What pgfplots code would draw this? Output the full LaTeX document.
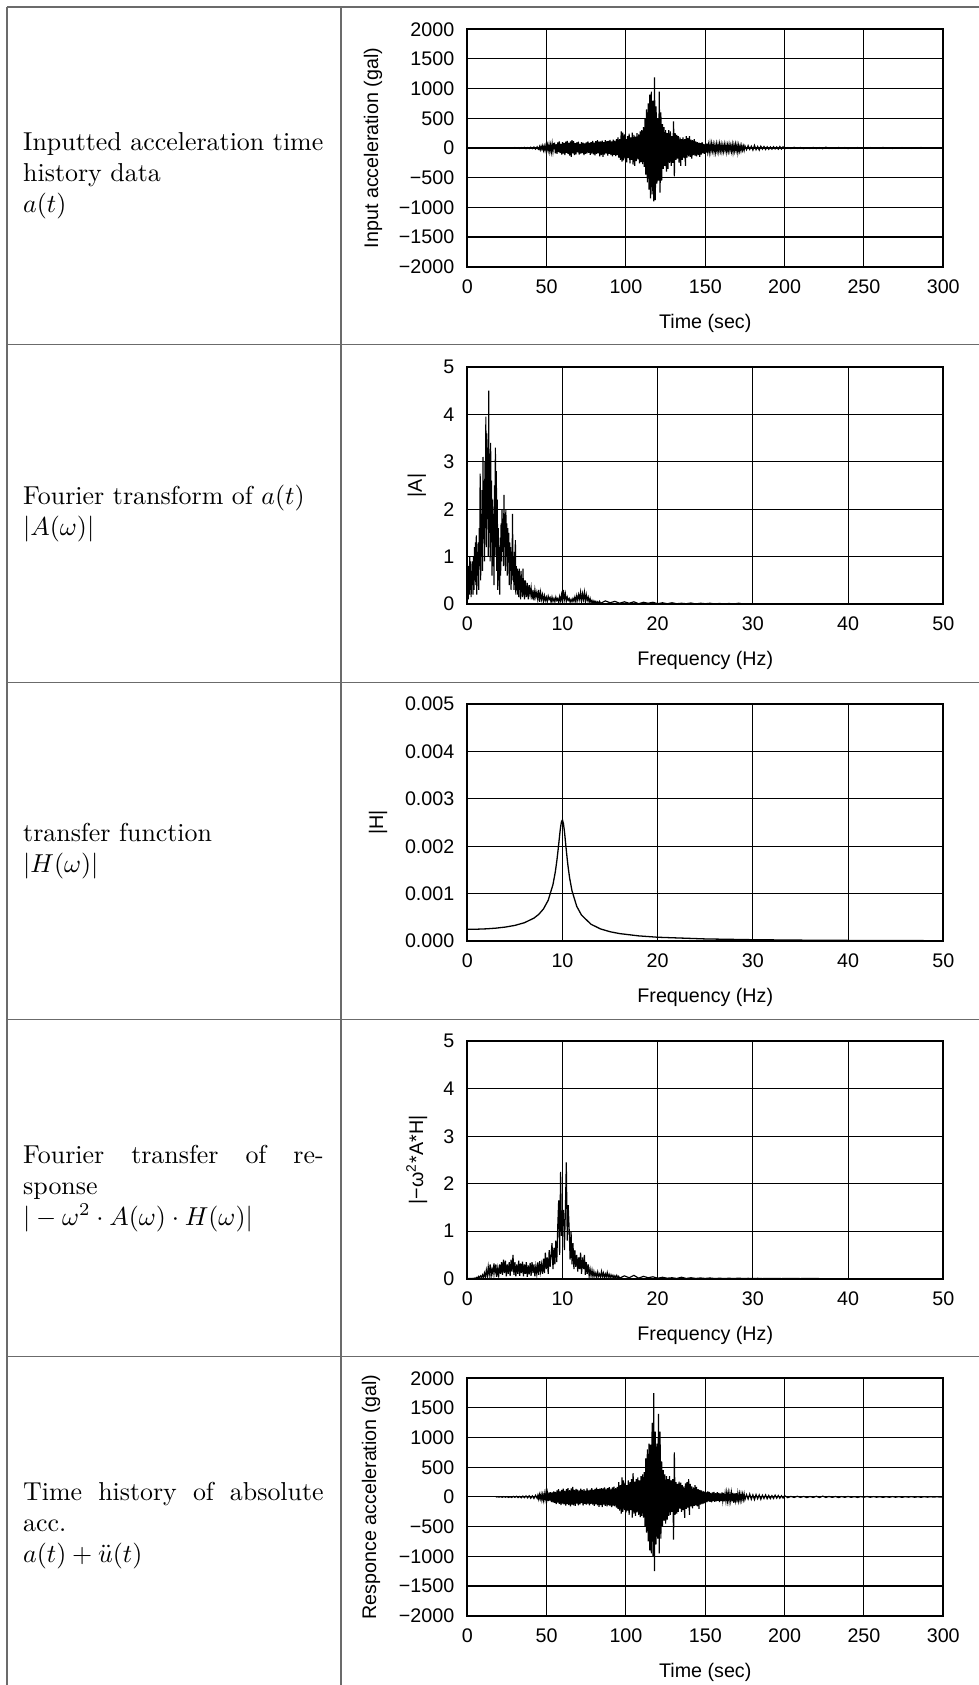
\documentclass[border=0pt]{standalone}
\usepackage{fontspec}
\usepackage{pgfplots}
\usepackage{pgfplotstable}
\pgfplotsset{compat=1.18}
\newfontfamily\plotfont{Liberation Sans}
\newcommand\plotfnt{\plotfont\fontsize{7.6}{9}\selectfont}
\definecolor{rulegray}{HTML}{6B6B6B}

% ---- input acceleration a(t) ----
\pgfplotstableread[row sep=\\]{t a\\
22 0\\23 -3\\24 4\\25 -2\\26 5\\27 -6\\28 3\\29 -5\\30 8\\31 -4\\32 6\\33 -9\\34 7\\35 -5\\36 10\\37 -12\\38 8\\39 -10\\40 14\\41 -11\\42 16\\43 -18\\44 20\\44.5 -15\\
45 -25\\45.5 22\\46 -30\\46.5 28\\47 -20\\47.5 35\\48 -38\\48.5 30\\49 -42\\49.5 36\\50 -45\\50.5 50\\51 -40\\51.5 55\\52 -58\\52.5 48\\53 -62\\53.5 70\\54 -55\\54.5 75\\
55 80\\55.5 -90\\56 65\\56.5 -100\\57 95\\57.5 -70\\58 110\\58.5 -85\\59 70\\59.5 -110\\
60 100\\60.5 -95\\61 85\\61.5 -120\\62 105\\62.5 -80\\63 120\\63.5 -100\\64 90\\64.5 -130\\
65 110\\65.5 -150\\66 130\\66.5 -90\\67 115\\67.5 -120\\68 80\\68.5 -105\\69 95\\69.5 -75\\
70 105\\70.5 -110\\71 70\\71.5 -95\\72 100\\72.5 -85\\73 90\\73.5 -120\\74 75\\74.5 -100\\
75 95\\75.5 -90\\76 110\\76.5 -80\\77 85\\77.5 -115\\78 100\\78.5 -95\\79 120\\79.5 -105\\
80 90\\80.5 -125\\81 115\\81.5 -100\\82 130\\82.5 -90\\83 105\\83.5 -140\\84 110\\84.5 -120\\
85 125\\85.5 -150\\86 100\\86.5 -110\\87 130\\87.5 -95\\88 115\\88.5 -130\\89 120\\89.5 -100\\
90 135\\90.5 -120\\91 110\\91.5 -140\\92 140\\92.5 -115\\93 125\\93.5 -135\\94 150\\94.5 -120\\
95 180\\95.5 -160\\96 150\\96.5 -200\\97 280\\97.5 -230\\98 260\\98.5 -210\\99 230\\99.5 -180\\
100 150\\100.5 -240\\101 200\\101.5 -170\\102 240\\102.5 -260\\103 180\\103.5 -200\\104 260\\104.5 -280\\
105 220\\105.5 -300\\106 190\\106.5 -220\\107 250\\107.5 -190\\108 230\\108.5 -260\\109 280\\109.5 -240\\
110 300\\110.5 -270\\111 350\\111.5 -320\\
112 500\\112.5 -450\\113 650\\113.5 -580\\114 750\\114.5 -700\\115 900\\115.5 -850\\116 950\\116.5 -780\\117 800\\117.5 -900\\
118 1190\\118.5 -880\\119 700\\119.5 -600\\120 500\\120.5 -550\\121 950\\121.5 -750\\122 600\\122.5 -550\\
123 400\\123.5 -350\\124 350\\124.5 -300\\125 300\\125.5 -400\\126 250\\126.5 -350\\127 300\\127.5 -250\\
128 280\\128.5 -300\\129 200\\129.5 -250\\130 450\\130.5 -480\\131 250\\131.5 -200\\132 220\\132.5 -180\\133 200\\133.5 -250\\134 180\\134.5 -300\\
135 150\\135.5 -200\\136 180\\136.5 -170\\137 150\\137.5 -300\\138 200\\138.5 -160\\139 170\\139.5 -140\\
140 200\\140.5 -150\\141 140\\141.5 -180\\142 130\\142.5 -120\\143 150\\143.5 -130\\144 110\\144.5 -140\\
145 100\\145.5 -120\\146 90\\146.5 -150\\147 80\\147.5 -110\\148 100\\148.5 -90\\149 70\\149.5 -100\\
150 60\\150.5 -80\\151 75\\151.5 -60\\152 50\\152.5 -70\\153 65\\153.5 -55\\154 70\\154.5 -45\\
155 55\\155.5 -65\\156 45\\156.5 -70\\157 60\\157.5 -50\\158 50\\158.5 -60\\159 65\\159.5 -45\\
160 55\\160.5 -60\\161 40\\161.5 -55\\162 60\\162.5 -40\\163 50\\163.5 -65\\164 45\\164.5 -50\\
165 60\\165.5 -45\\166 40\\166.5 -55\\167 55\\167.5 -70\\168 45\\168.5 -50\\169 60\\169.5 -40\\
170 50\\170.5 -75\\171 40\\171.5 -50\\172 35\\172.5 -45\\173 40\\173.5 -35\\174 30\\174.5 -40\\
175 35\\176 -30\\177 40\\178 -25\\179 30\\180 -35\\181 45\\182 -30\\183 25\\184 -35\\185 30\\186 -20\\187 25\\188 -25\\189 20\\190 -22\\191 18\\192 -20\\193 22\\194 -15\\195 18\\196 -20\\197 25\\198 -18\\199 20\\200 -15\\
202 8\\204 -10\\206 12\\208 -7\\210 9\\212 -11\\214 6\\216 -8\\218 10\\220 -9\\222 7\\224 -12\\226 14\\228 -8\\230 6\\232 -7\\234 9\\236 -6\\238 8\\240 -10\\242 5\\244 -7\\246 8\\248 -5\\250 6\\
252 -8\\254 7\\256 -6\\258 5\\260 -7\\262 9\\264 -5\\266 6\\268 -8\\270 5\\272 -6\\274 7\\276 -5\\278 6\\280 -7\\282 5\\284 -6\\286 8\\288 -5\\290 6\\292 -4\\294 5\\296 -6\\298 4\\300 -3\\
}\inacc

% ---- Fourier amplitude |A| ----
\pgfplotstableread[row sep=\\]{f a\\
0 0.05\\0.05 0.6\\0.1 0.1\\0.15 0.8\\0.2 0.2\\0.25 1.0\\0.3 0.3\\0.35 0.9\\0.4 0.15\\0.45 0.7\\0.5 0.4\\0.55 0.9\\0.6 0.2\\0.65 1.0\\0.7 0.3\\0.75 1.2\\0.8 0.5\\0.85 1.3\\0.9 0.4\\0.95 1.45\\
1 0.2\\1.05 1.1\\1.1 0.6\\1.15 1.3\\1.2 0.3\\1.25 1.6\\1.3 0.8\\1.35 2.75\\1.4 0.5\\1.45 1.9\\1.5 1.0\\1.55 2.4\\1.6 0.7\\1.65 3.1\\1.7 1.4\\1.75 2.6\\1.8 0.9\\1.85 3.0\\1.9 1.6\\1.95 3.95\\
2 1.2\\2.05 3.6\\2.1 2.0\\2.15 3.3\\2.2 1.0\\2.25 4.5\\2.3 1.5\\2.35 3.0\\2.4 0.9\\2.45 3.4\\2.5 1.3\\2.55 2.6\\2.6 0.6\\2.65 2.2\\2.7 0.8\\2.75 1.9\\2.8 0.4\\2.85 2.5\\2.9 1.0\\2.95 3.3\\
3 1.2\\3.05 2.8\\3.1 0.7\\3.15 2.2\\3.2 0.3\\3.25 1.6\\3.3 0.5\\3.35 1.2\\3.4 0.2\\3.45 1.4\\3.5 0.6\\3.55 1.7\\3.6 0.9\\3.65 2.0\\3.7 1.1\\3.75 1.8\\3.8 0.8\\3.85 2.3\\3.9 1.2\\3.95 1.9\\
4 0.7\\4.05 2.0\\4.1 1.0\\4.15 1.7\\4.2 0.6\\4.25 1.6\\4.3 0.9\\4.35 1.5\\4.4 0.4\\4.45 1.3\\4.5 0.7\\4.55 1.2\\4.6 0.3\\4.65 1.1\\4.7 0.6\\4.75 1.9\\4.8 0.5\\4.85 1.0\\4.9 0.3\\4.95 1.1\\
5 0.4\\5.05 1.35\\5.1 0.2\\5.15 0.8\\5.2 0.3\\5.25 0.75\\5.3 0.2\\5.35 0.7\\5.4 0.15\\5.45 0.75\\5.5 0.3\\5.55 0.6\\5.6 0.1\\5.65 0.7\\5.7 0.25\\5.75 0.55\\5.8 0.15\\5.85 0.75\\5.9 0.2\\5.95 0.5\\
6 0.1\\6.1 0.5\\6.2 0.15\\6.3 0.45\\6.4 0.1\\6.5 0.4\\6.6 0.2\\6.7 0.35\\6.8 0.1\\6.9 0.3\\7 0.08\\7.1 0.3\\7.2 0.15\\7.3 0.25\\7.4 0.1\\7.5 0.3\\7.6 0.05\\7.7 0.25\\7.8 0.1\\7.9 0.2\\
8 0.05\\8.1 0.18\\8.2 0.08\\8.3 0.15\\8.4 0.05\\8.5 0.17\\8.6 0.1\\8.7 0.14\\8.8 0.04\\8.9 0.15\\9 0.06\\9.1 0.12\\9.2 0.05\\9.3 0.15\\9.4 0.08\\9.5 0.12\\9.6 0.03\\9.7 0.16\\9.8 0.07\\9.9 0.2\\
10 0.05\\10.1 0.3\\10.2 0.1\\10.3 0.22\\10.4 0.06\\10.5 0.15\\10.6 0.08\\10.7 0.12\\10.8 0.04\\10.9 0.1\\11 0.05\\11.1 0.12\\11.2 0.06\\11.3 0.15\\11.4 0.05\\11.5 0.18\\11.6 0.08\\11.7 0.2\\11.8 0.1\\11.9 0.25\\
12 0.06\\12.1 0.22\\12.2 0.1\\12.3 0.25\\12.4 0.05\\12.5 0.2\\12.6 0.08\\12.7 0.15\\12.8 0.04\\12.9 0.12\\13 0.03\\13.1 0.08\\13.2 0.02\\13.3 0.07\\13.4 0.03\\13.5 0.06\\13.6 0.02\\13.7 0.05\\13.8 0.01\\13.9 0.06\\
14 0.02\\14.5 0.07\\15 0.03\\15.5 0.06\\16 0.02\\16.5 0.05\\17 0.02\\17.5 0.05\\18 0.01\\18.5 0.04\\19 0.02\\19.5 0.04\\20 0.01\\20.5 0.03\\21 0.01\\21.5 0.03\\22 0.01\\22.5 0.02\\23 0.01\\23.5 0.025\\
24 0.005\\24.5 0.02\\25 0.01\\25.5 0.02\\26 0.005\\26.5 0.015\\27 0.005\\27.5 0.015\\28 0.005\\28.5 0.02\\29 0.005\\29.5 0.01\\30 0.005\\31 0.01\\32 0.003\\33 0.01\\34 0.003\\35 0.008\\36 0.003\\37 0.006\\
38 0.002\\40 0.004\\42 0.002\\44 0.003\\46 0.002\\48 0.002\\50 0.001\\
}\fourA

% ---- transfer function |H| ----
\pgfplotstableread[row sep=\\]{f h\\
0 0.000250\\1 0.0002525\\2 0.0002604\\3 0.0002747\\4 0.0002976\\5 0.0003326\\6 0.000389\\7 0.000486\\7.5 0.000564\\8 0.000679\\8.5 0.000863\\9 0.001193\\9.25 0.001466\\9.4 0.001684\\9.5 0.001855\\9.6 0.002041\\9.75 0.002324\\9.8 0.002407\\9.9 0.002525\\
10 0.002551\\10.1 0.002475\\10.2 0.002319\\10.25 0.002222\\10.4 0.001915\\10.5 0.001722\\10.6 0.001548\\10.75 0.001330\\11 0.001059\\11.5 0.000732\\12 0.000549\\13 0.000356\\14 0.000258\\15 0.000199\\16 0.000160\\18 0.000112\\
20 0.0000833\\25 0.0000476\\30 0.0000313\\35 0.0000222\\40 0.0000167\\45 0.0000130\\50 0.0000104\\
}\transH

% ---- response spectrum |-w^2 A H| ----
\pgfplotstableread[row sep=\\]{f w\\
0 0\\0.1 0.002\\0.2 0.003\\0.3 0.002\\0.4 0.005\\0.5 0.004\\0.6 0.008\\0.7 0.006\\0.8 0.015\\0.9 0.01\\
1 0.03\\1.1 0.015\\1.2 0.05\\1.3 0.02\\1.4 0.06\\1.5 0.03\\1.6 0.08\\1.7 0.02\\1.8 0.12\\1.9 0.04\\
2 0.18\\2.1 0.05\\2.2 0.25\\2.3 0.08\\2.4 0.3\\2.5 0.05\\2.6 0.2\\2.7 0.1\\2.8 0.32\\2.9 0.12\\
3 0.3\\3.1 0.04\\3.2 0.22\\3.3 0.06\\3.4 0.3\\3.5 0.1\\3.6 0.35\\3.7 0.08\\3.8 0.4\\3.9 0.12\\
4 0.38\\4.1 0.05\\4.2 0.3\\4.3 0.1\\4.4 0.35\\4.5 0.06\\4.6 0.4\\4.7 0.15\\4.8 0.5\\4.9 0.08\\
5 0.35\\5.1 0.05\\5.2 0.3\\5.3 0.1\\5.4 0.38\\5.5 0.06\\5.6 0.32\\5.7 0.12\\5.8 0.36\\5.9 0.05\\
6 0.3\\6.1 0.1\\6.2 0.35\\6.3 0.04\\6.4 0.28\\6.5 0.09\\6.6 0.33\\6.7 0.06\\6.8 0.35\\6.9 0.12\\
7 0.3\\7.1 0.05\\7.2 0.26\\7.3 0.1\\7.4 0.34\\7.5 0.08\\7.6 0.37\\7.7 0.15\\7.8 0.3\\7.9 0.1\\
8 0.42\\8.1 0.12\\8.2 0.55\\8.3 0.2\\8.4 0.45\\8.5 0.1\\8.6 0.6\\8.7 0.25\\8.8 0.5\\8.9 0.75\\
9 0.2\\9.1 0.65\\9.2 0.3\\9.3 0.8\\9.4 0.35\\9.5 1.1\\9.6 1.65\\9.7 0.5\\9.8 2.25\\9.9 0.9\\
10 1.3\\10.1 1.45\\10.2 0.6\\10.3 1.4\\10.4 2.45\\10.5 0.8\\10.6 1.55\\10.7 1.05\\10.8 0.4\\10.9 1.0\\
11 0.3\\11.1 0.75\\11.2 0.2\\11.3 0.6\\11.4 0.25\\11.5 0.5\\11.6 0.15\\11.7 0.45\\11.8 0.2\\11.9 0.55\\
12 0.1\\12.1 0.45\\12.2 0.2\\12.3 0.5\\12.4 0.08\\12.5 0.35\\12.6 0.1\\12.7 0.3\\12.8 0.05\\12.9 0.2\\
13 0.06\\13.1 0.18\\13.2 0.04\\13.3 0.15\\13.4 0.05\\13.5 0.12\\13.6 0.03\\13.7 0.14\\13.8 0.05\\13.9 0.1\\
14 0.03\\14.1 0.15\\14.2 0.05\\14.3 0.12\\14.4 0.02\\14.5 0.1\\14.6 0.04\\14.7 0.13\\14.8 0.03\\14.9 0.09\\
15 0.02\\15.1 0.08\\15.2 0.03\\15.3 0.07\\15.4 0.01\\15.5 0.06\\15.6 0.02\\15.7 0.07\\15.8 0.02\\15.9 0.05\\
16 0.01\\16.5 0.06\\17 0.02\\17.5 0.07\\18 0.01\\18.5 0.05\\19 0.02\\19.5 0.04\\20 0.01\\20.5 0.03\\21 0.01\\21.5 0.02\\22 0.005\\22.5 0.03\\23 0.005\\23.5 0.02\\24 0.005\\24.5 0.015\\25 0.005\\25.5 0.015\\
26 0.003\\26.5 0.01\\27 0.003\\27.5 0.01\\28 0.002\\28.5 0.012\\29 0.002\\29.5 0.008\\30 0.002\\30.5 0.008\\31 0.002\\32 0.006\\33 0.002\\34 0.005\\35 0.002\\36 0.005\\37 0.002\\40 0.002\\45 0.001\\50 0.001\\
}\respW

% ---- response acceleration ----
\pgfplotstableread[row sep=\\]{t r\\
18 0\\19 2\\20 -3\\21 4\\22 -5\\23 6\\24 -4\\25 7\\26 -8\\27 5\\28 -9\\29 10\\30 -7\\31 12\\32 -10\\33 9\\34 -14\\35 15\\36 -12\\37 18\\38 -15\\39 20\\40 -22\\41 18\\42 -25\\43 28\\44 -24\\44.5 30\\
45 -35\\45.5 40\\46 -30\\46.5 45\\47 -48\\47.5 38\\48 -52\\48.5 55\\49 -45\\49.5 60\\50 -65\\50.5 58\\51 -70\\51.5 75\\52 -62\\52.5 80\\53 -85\\53.5 78\\54 -90\\54.5 95\\
55 -100\\55.5 85\\56 -120\\56.5 110\\57 -95\\57.5 130\\58 -115\\58.5 100\\59 -135\\59.5 120\\
60 -110\\60.5 140\\61 -125\\61.5 105\\62 -145\\62.5 130\\63 -120\\63.5 150\\64 -135\\64.5 115\\
65 -160\\65.5 145\\66 -130\\66.5 170\\67 -140\\67.5 120\\68 -150\\68.5 135\\69 -110\\69.5 125\\
70 -140\\70.5 110\\71 -125\\71.5 140\\72 -105\\72.5 120\\73 -145\\73.5 130\\74 -115\\74.5 105\\
75 -130\\75.5 145\\76 -120\\76.5 110\\77 -140\\77.5 125\\78 -115\\78.5 150\\79 -130\\79.5 120\\
80 -150\\80.5 135\\81 -125\\81.5 155\\82 -140\\82.5 130\\83 -165\\83.5 140\\84 -135\\84.5 150\\
85 -170\\85.5 145\\86 -130\\86.5 160\\87 -150\\87.5 140\\88 -160\\88.5 150\\89 -135\\89.5 165\\
90 -155\\90.5 140\\91 -170\\91.5 160\\92 -145\\92.5 175\\93 -160\\93.5 150\\94 -180\\94.5 170\\
95 -200\\95.5 250\\96 -230\\96.5 200\\97 -280\\97.5 330\\98 -250\\98.5 280\\99 -220\\99.5 240\\
100 -260\\100.5 200\\101 -230\\101.5 280\\102 -300\\102.5 250\\103 -220\\103.5 300\\104 -350\\104.5 400\\
105 -280\\105.5 260\\106 -320\\106.5 300\\107 -260\\107.5 330\\108 -300\\108.5 280\\109 -340\\109.5 350\\
110 -320\\110.5 380\\111 -350\\111.5 420\\
112 -500\\112.5 650\\113 -600\\113.5 800\\114 -750\\114.5 900\\115 -900\\115.5 880\\116 -950\\116.5 1250\\
117 -1000\\117.5 1750\\118 -1250\\118.5 1100\\119 -800\\119.5 900\\120 -700\\120.5 1400\\121 -950\\121.5 1100\\
122 -700\\122.5 600\\123 -500\\123.5 450\\124 -400\\124.5 380\\125 -450\\125.5 350\\126 -380\\126.5 300\\127 -320\\127.5 350\\
128 -300\\128.5 280\\129 -250\\129.5 300\\130 -720\\130.5 750\\131 -300\\131.5 250\\132 -280\\132.5 220\\133 -250\\133.5 260\\134 -200\\134.5 240\\
135 -250\\135.5 200\\136 -220\\136.5 180\\137 -350\\137.5 230\\138 -200\\138.5 250\\139 -180\\139.5 300\\
140 -300\\140.5 220\\141 -160\\141.5 180\\142 -190\\142.5 160\\143 -150\\143.5 200\\144 -140\\144.5 170\\
145 -160\\145.5 130\\146 -200\\146.5 120\\147 -130\\147.5 110\\148 -120\\148.5 100\\149 -110\\149.5 90\\
150 -100\\150.5 80\\151 -90\\151.5 95\\152 -75\\152.5 85\\153 -80\\153.5 70\\154 -90\\154.5 75\\
155 -70\\155.5 85\\156 -80\\156.5 65\\157 -75\\157.5 80\\158 -65\\158.5 70\\159 -85\\159.5 60\\
160 -70\\160.5 75\\161 -60\\161.5 70\\162 -75\\162.5 55\\163 -65\\163.5 70\\164 -60\\164.5 65\\
165 -70\\165.5 55\\166 -60\\166.5 65\\167 -75\\167.5 70\\168 -100\\168.5 60\\169 -55\\169.5 65\\
170 -90\\170.5 55\\171 -60\\171.5 50\\172 -55\\172.5 45\\173 -50\\173.5 45\\174 -40\\174.5 50\\
175 -45\\176 40\\177 -35\\178 50\\179 -40\\180 35\\181 -45\\182 40\\183 -30\\184 35\\185 -40\\186 30\\187 -25\\188 35\\189 -30\\190 25\\191 -28\\192 22\\193 -25\\194 30\\195 -20\\196 25\\197 -22\\198 20\\199 -18\\200 22\\
202 -12\\204 10\\206 -9\\208 12\\210 -8\\212 10\\214 -11\\216 8\\218 -9\\220 12\\222 -10\\224 14\\226 -8\\228 9\\230 -7\\232 8\\234 -10\\236 7\\238 -6\\240 9\\242 -7\\244 6\\246 -8\\248 7\\250 -5\\
252 8\\254 -6\\256 7\\258 -5\\260 6\\262 -8\\264 5\\266 -6\\268 7\\270 -5\\272 6\\274 -7\\276 5\\278 -4\\280 6\\282 -5\\284 4\\286 -6\\288 5\\290 -4\\292 5\\294 -3\\296 4\\298 -3\\300 2\\
}\respacc

\pgfplotsset{
  panel/.style={
    scale only axis, width=183.78pt, height=91.66pt, anchor=south west,
    axis line style={line width=0.8pt},
    grid=major, major grid style={black, line width=0.4pt},
    major tick length=0pt, tick style={draw=none},
    scaled ticks=false,
    tick label style={font=\plotfnt},
    label style={font=\plotfnt},
    xticklabel style={yshift=-1.4pt},
    yticklabel style={xshift=-1.5pt},
    xlabel style={at={(axis description cs:0.5,-0.238)}, anchor=center},
    cycle list={{black, line width=0.45pt, mark=none}},
  },
  timeaxis/.style={
    xmin=0, xmax=300, ymin=-2000, ymax=2000,
    xtick={0,50,100,150,200,250,300}, xticklabels={0,50,100,150,200,250,300},
    ytick={-2000,-1500,-1000,-500,0,500,1000,1500,2000},
    yticklabels={−2000,−1500,−1000,−500,0,500,1000,1500,2000},
    xlabel={Time (sec)},
  },
  freqaxis/.style={
    xmin=0, xmax=50,
    xtick={0,10,20,30,40,50}, xticklabels={0,10,20,30,40,50},
    xlabel={Frequency (Hz)},
  },
}

\begin{document}
\begin{tikzpicture}
\path[use as bounding box] (0pt,0pt) rectangle (378.0pt,-650.6pt);

% table rules
\begin{scope}[rulegray, line width=0.45pt]
\draw (2.70pt,-2.70pt) -- (380pt,-2.70pt);
\draw (2.70pt,-2.70pt) -- (2.70pt,-660pt);
\draw (131.66pt,-2.70pt) -- (131.66pt,-660pt);
\draw (2.70pt,-133.0pt) -- (380pt,-133.0pt);
\draw (2.70pt,-263.4pt) -- (380pt,-263.4pt);
\draw (2.70pt,-393.6pt) -- (380pt,-393.6pt);
\draw (2.70pt,-523.9pt) -- (380pt,-523.9pt);
\end{scope}

% left column text
\begin{scope}[every node/.style={anchor=west, text width=116pt, align=justify, inner sep=0pt, font=\normalsize}]
\node at (8.76pt,-67.86pt) {\noindent Inputted acceleration time\\ history data\\ $a(t)$};
\node at (8.76pt,-198.22pt) {\noindent Fourier transform of $a(t)$\\ $|A(\omega)|$};
\node at (8.76pt,-328.53pt) {\noindent transfer function\\ $|H(\omega)|$};
\node at (8.76pt,-458.80pt) {\noindent Fourier transfer of re-\linebreak sponse\\ $|-\omega^2\cdot A(\omega)\cdot H(\omega)|$};
\node at (8.76pt,-589.03pt) {\noindent Time history of absolute\linebreak acc.\\ $a(t)+\ddot{u}(t)$};
\end{scope}

% panel 1
\begin{axis}[panel, timeaxis, at={(180.43pt,-102.97pt)},
  ylabel={Input acceleration (gal)},
  ylabel style={at={(axis description cs:-0.198,0.5)}, anchor=center}]
\addplot[black, line width=0.45pt, mark=none] table[x=t, y=a] {\inacc};
\end{axis}

% panel 2
\begin{axis}[panel, freqaxis, at={(180.43pt,-233.28pt)},
  ymin=0, ymax=5, ytick={0,1,2,3,4,5}, yticklabels={0,1,2,3,4,5},
  ylabel={|A|},
  ylabel style={at={(axis description cs:-0.106,0.5)}, anchor=center}]
\addplot[black, line width=0.45pt, mark=none] table[x=f, y=a] {\fourA};
\end{axis}

% panel 3
\begin{axis}[panel, freqaxis, at={(180.43pt,-363.40pt)},
  ymin=0, ymax=0.005, ytick={0,0.001,0.002,0.003,0.004,0.005},
  yticklabels={0.000,0.001,0.002,0.003,0.004,0.005},
  ylabel={|H|},
  ylabel style={at={(axis description cs:-0.1876,0.5)}, anchor=center}]
\addplot[black, line width=0.5pt, mark=none] table[x=f, y=h] {\transH};
\end{axis}

% panel 4
\begin{axis}[panel, freqaxis, at={(180.43pt,-493.71pt)},
  ymin=0, ymax=5, ytick={0,1,2,3,4,5}, yticklabels={0,1,2,3,4,5},
  ylabel={|−ω\textsuperscript{2}*A*H|},
  ylabel style={at={(axis description cs:-0.106,0.5)}, anchor=center}]
\addplot[black, line width=0.45pt, mark=none] table[x=f, y=w] {\respW};
\end{axis}

% panel 5
\begin{axis}[panel, timeaxis, at={(180.43pt,-623.82pt)},
  ylabel={Responce acceleration (gal)},
  ylabel style={at={(axis description cs:-0.202,0.5)}, anchor=center}]
\addplot[black, line width=0.45pt, mark=none] table[x=t, y=r] {\respacc};
\end{axis}
\end{tikzpicture}
\end{document}
